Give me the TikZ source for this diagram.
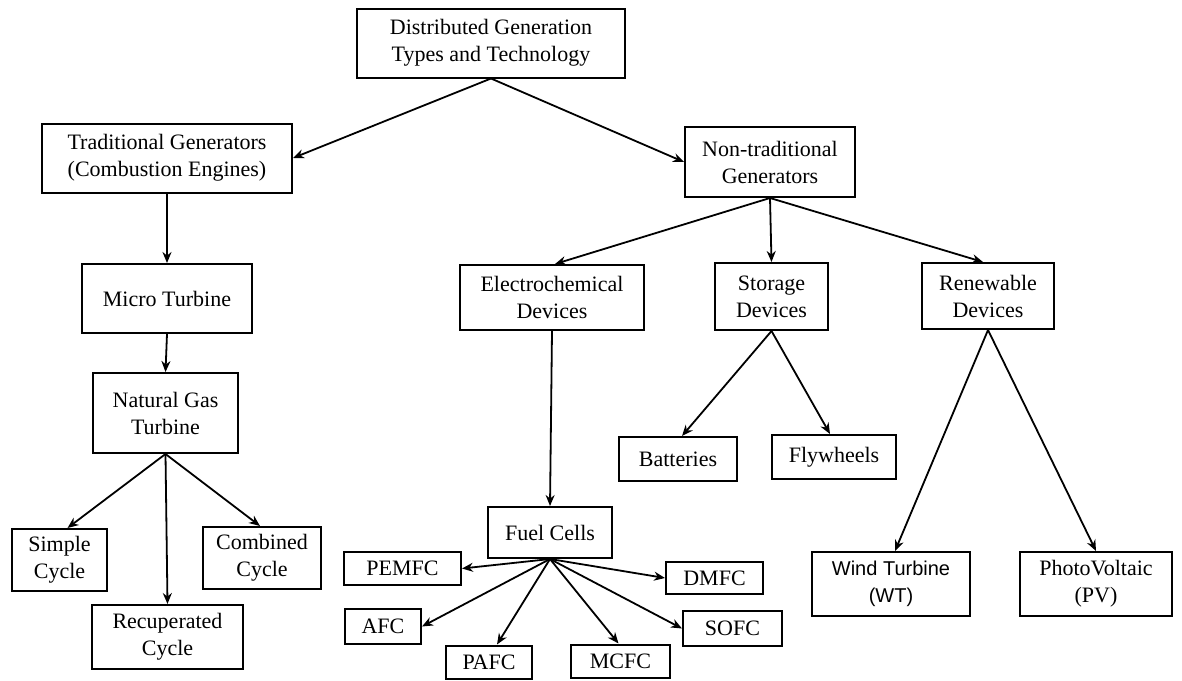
\documentclass[tikz,border=0pt]{standalone}
\usepackage{fontspec}
\setmainfont{Liberation Serif}
\newfontfamily\arialfont{Liberation Sans}
\usetikzlibrary{arrows.meta}
\begin{document}
\begin{tikzpicture}[x=0.5pt,y=-0.5pt,
  box/.style={draw, line width=1pt, align=center, inner sep=0pt, font=\fontsize{11}{13.5}\selectfont},
  arr/.style={-{Stealth[length=5.5pt,width=4.5pt]}, line width=0.9pt}]
\useasboundingbox (0,0) rectangle (1182,680);
\node[box, minimum width=134pt, minimum height=34.5pt] (dg) at (491,43) {Distributed Generation\\Types and Technology};
\node[box, minimum width=125pt, minimum height=34.5pt] (trad) at (167,158) {Traditional Generators\\(Combustion Engines)};
\node[box, minimum width=85pt, minimum height=35pt] (nontrad) at (770,162) {Non-traditional\\Generators};
\node[box, minimum width=85pt, minimum height=34.5pt] (micro) at (167,298.5) {Micro Turbine};
\node[box, minimum width=72.5pt, minimum height=40pt] (ngt) at (165.5,413) {Natural Gas\\Turbine};
\node[box, minimum width=47.5pt, minimum height=31pt] (simple) at (59.5,560) {Simple\\Cycle};
\node[box, minimum width=59pt, minimum height=31pt] (comb) at (262,558) {Combined\\Cycle};
\node[box, minimum width=75.5pt, minimum height=32pt] (recup) at (167.5,637) {Recuperated\\Cycle};
\node[box, minimum width=92pt, minimum height=32.5pt] (elec) at (552,297.5) {Electrochemical\\Devices};
\node[box, minimum width=56.5pt, minimum height=33.5pt] (stor) at (771.5,296.5) {Storage\\Devices};
\node[box, minimum width=66pt, minimum height=33pt] (renew) at (988,296) {Renewable\\Devices};
\node[box, minimum width=59pt, minimum height=22pt] (batt) at (678,459) {Batteries};
\node[box, minimum width=62pt, minimum height=22pt] (fly) at (834,457) {Flywheels};
\node[box, minimum width=62pt, minimum height=25.5pt] (fc) at (550,532.5) {Fuel Cells};
\node[box, minimum width=58.5pt, minimum height=16.5pt] (pemfc) at (402.5,568.5) {PEMFC};
\node[box, minimum width=48.5pt, minimum height=16pt] (dmfc) at (714.5,578) {DMFC};
\node[box, minimum width=38pt, minimum height=17.5pt] (afc) at (383,626.5) {AFC};
\node[box, minimum width=49.5pt, minimum height=17.5pt] (sofc) at (732.5,628.5) {SOFC};
\node[box, minimum width=43pt, minimum height=16.5pt] (pafc) at (489,662) {PAFC};
\node[box, minimum width=49.5pt, minimum height=16.5pt] (mcfc) at (620.5,661) {MCFC};
\node[box, minimum width=79pt, minimum height=32pt, font=\arialfont\fontsize{10}{13.5}\selectfont] (wt) at (891,584) {Wind Turbine\\(WT)};
\node[box, minimum width=76pt, minimum height=32pt] (pv) at (1096,584) {PhotoVoltaic\\(PV)};
\draw[arr] (dg.south) -- (trad.east);
\draw[arr] (dg.south) -- (nontrad.west);
\draw[arr] (trad.south) -- (micro.north);
\draw[arr] (micro.south) -- (ngt.north);
\draw[arr] (ngt.south) -- ([xshift=4pt]simple.north);
\draw[arr] (ngt.south) -- (recup.north);
\draw[arr] (ngt.south) -- ([xshift=-1pt]comb.north);
\draw[arr] (nontrad.south) -- ([xshift=1.5pt]elec.north);
\draw[arr] (nontrad.south) -- (stor.north);
\draw[arr] (nontrad.south) -- ([xshift=-2.5pt]renew.north);
\draw[arr] (elec.south) -- (fc.north);
\draw[arr] (stor.south) -- ([xshift=2pt]batt.north);
\draw[arr] (stor.south) -- ([xshift=-2pt]fly.north);
\draw[arr] (renew.south) -- ([xshift=2pt]wt.north);
\draw[arr] (renew.south) -- (pv.north);
\draw[arr] (fc.south) -- (pemfc.east);
\draw[arr] (fc.south) -- (dmfc.west);
\draw[arr] (fc.south) -- (afc.east);
\draw[arr] (fc.south) -- (sofc.west);
\draw[arr] (fc.south) -- ([xshift=4pt]pafc.north);
\draw[arr] (fc.south) -- ([xshift=-1pt]mcfc.north);
\end{tikzpicture}
\end{document}
